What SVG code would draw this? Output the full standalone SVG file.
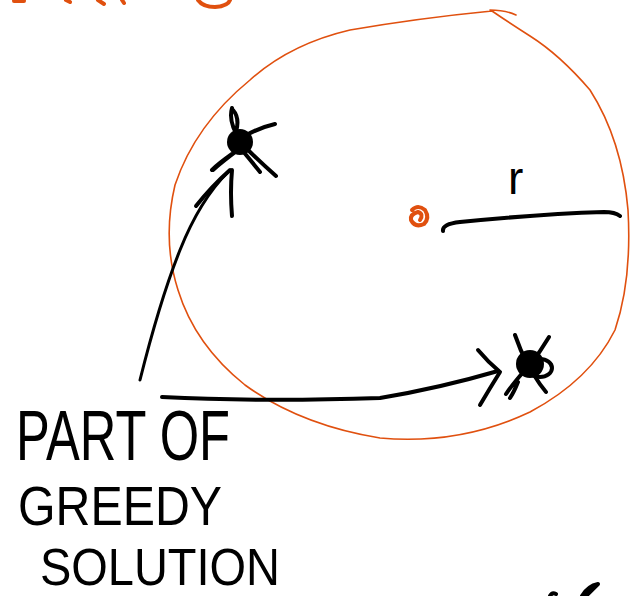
<svg xmlns="http://www.w3.org/2000/svg" width="630" height="596" viewBox="0 0 630 596">
<style>
.ink{fill:none;stroke:#000;stroke-width:4;stroke-linecap:round;stroke-linejoin:round}
.thin{fill:none;stroke:#000;stroke-width:3;stroke-linecap:round;stroke-linejoin:round}
.or{fill:none;stroke:#e0500f;stroke-width:1.6;stroke-linecap:round;stroke-linejoin:round}
.orb{fill:none;stroke:#e0500f;stroke-width:4;stroke-linecap:round;stroke-linejoin:round}
.hand{font-family:"Liberation Sans",Arial,sans-serif;fill:#000}
</style>
<rect width="630" height="596" fill="#fff"/>
<g id="top-fragments">
<path class="orb" d="M14 1 L24 1 M66 0 L70 2 M98 0 L104 4 M122 0 L124 3 M198 0 Q203 7 215 7 Q228 6 230 0"/>
</g>
<g id="region-circle">
<path class="or" d="M490 10 Q505 10 516 15 M492 11 Q420 18 350 30 Q290 44 250 80 Q195 125 175 185 Q162 240 178 290 Q195 345 245 385 Q300 425 380 438 Q460 445 530 412 Q590 380 615 330 Q632 280 628 210 Q622 140 590 90 Q560 55 530 36 Q508 22 492 11"/>
</g>
<g id="center">
<path class="orb" d="M412 210 Q418 204 425 210 Q430 218 424 224 Q415 228 411 220 Q410 214 418 212 Q424 214 420 220"/>
</g>
<g id="radius">
<path class="ink" d="M443 231 Q442 224 460 222 Q540 214 604 212 Q615 212 620 216"/>
<text class="hand" x="508" y="194" font-size="46">r</text>
</g>
<g id="star-1">
<circle cx="240" cy="142" r="13" fill="#000"/>
<path class="ink" d="M232 108 Q228 122 240 140 M233 110 Q240 118 236 132 M245 136 Q258 128 275 124 M244 146 Q258 160 276 176 M242 150 Q252 162 260 172 M238 150 Q222 162 213 170 M232 154 Q218 164 212 170"/>
</g>
<g id="star-2">
<circle cx="530" cy="364" r="14" fill="#000"/>
<ellipse cx="540" cy="368" rx="12" ry="9" class="ink"/>
<path class="ink" d="M515 335 Q520 350 528 365 M549 337 Q540 352 530 365 M525 370 Q512 385 506 394 M518 382 Q514 392 510 398 M534 375 Q540 385 546 392"/>
</g>
<g id="label">
<text class="hand" x="16" y="460" font-size="70" textLength="214" lengthAdjust="spacingAndGlyphs">PART OF</text>
<text class="hand" x="18" y="525" font-size="56" textLength="204" lengthAdjust="spacingAndGlyphs">GREEDY</text>
<text class="hand" x="40" y="585" font-size="52" textLength="240" lengthAdjust="spacingAndGlyphs">SOLUTION</text>
</g>
<g id="connectors">
<path class="thin" d="M140 380 Q160 300 180 250 Q200 200 228 172"/>
<path class="ink" d="M196 206 Q212 186 230 170 M232 216 Q230 192 232 170"/>
<path class="ink" d="M162 397 Q260 402 380 398 Q440 388 498 371"/>
<path class="ink" d="M478 350 Q488 362 500 372 M480 405 Q490 388 500 372"/>
</g>
<g id="bottom-fragment">
<path class="ink" d="M550 596 Q552 592 556 594 M582 596 Q588 586 598 584 Q592 590 586 596"/>
</g>
</svg>
